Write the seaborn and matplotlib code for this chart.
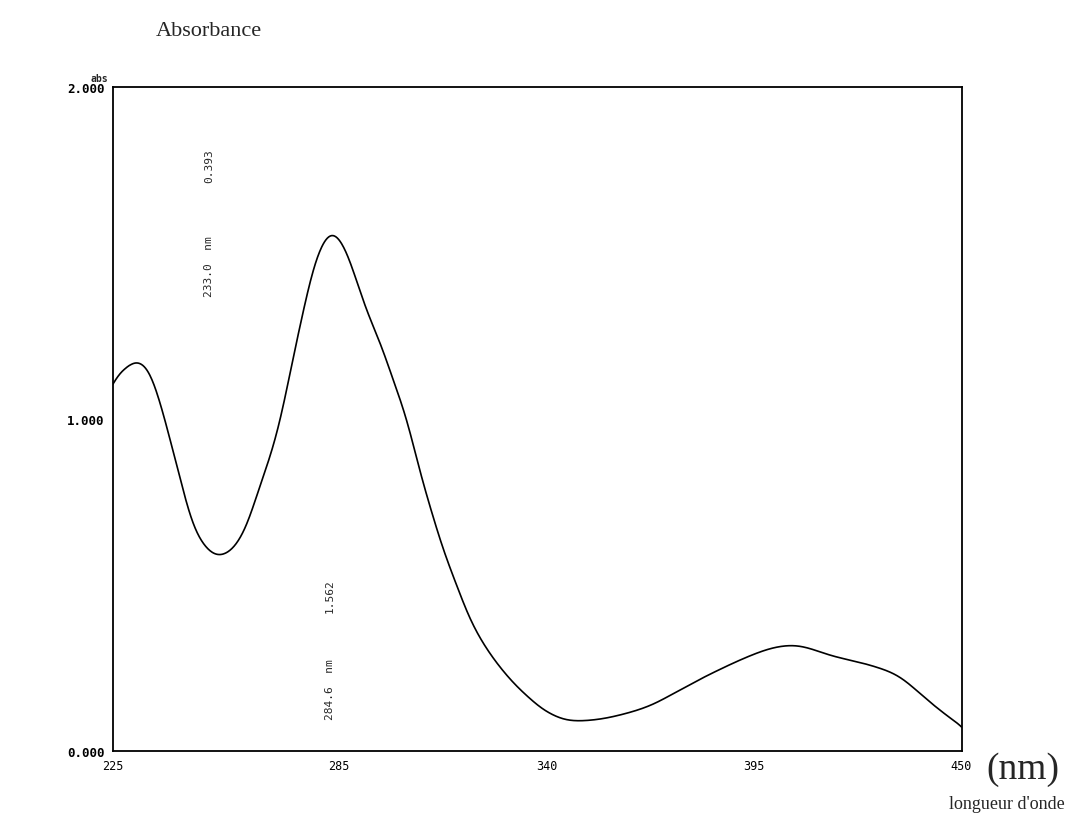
import numpy as np
import pandas as pd
import matplotlib
matplotlib.use("Agg")
import matplotlib.pyplot as plt
import seaborn as sns

# Data
wavelength_nm = [225.0, 228.0, 231.4, 234.8, 238.0, 240.1, 242.8, 246.2, 249.9, 252.8,
                 256.8, 260.5, 263.4, 266.5, 269.3, 272.7, 275.4, 278.0, 280.5, 283.3,
                 287.0, 290.5, 293.1, 295.8, 299.2, 302.9, 306.4, 309.8, 312.5, 316.2,
                 319.6, 324.1, 330.2, 336.3, 340.0, 345.3, 352.2, 359.4, 367.3, 374.5,
                 382.4, 393.8, 401.0, 407.1, 415.8, 426.4, 433.6, 441.5, 450.0]
absorbance = [1.105, 1.150, 1.175, 1.142, 1.030, 0.940, 0.820, 0.678, 0.608, 0.587,
              0.608, 0.678, 0.780, 0.880, 0.991, 1.181, 1.322, 1.452, 1.530, 1.565,
              1.503, 1.383, 1.301, 1.232, 1.120, 1.000, 0.840, 0.708, 0.608, 0.497,
              0.398, 0.307, 0.217, 0.150, 0.118, 0.093, 0.093, 0.108, 0.136, 0.178,
              0.226, 0.286, 0.313, 0.316, 0.286, 0.256, 0.223, 0.148, 0.072]

x_ticks = [225, 285, 340, 395, 450]
x_tick_labels = ["225", "285", "340", "395", "450"]
y_ticks = [0.0, 1.0, 2.0]
y_tick_labels = ["0.000", "1.000", "2.000"]

peak_wl = ["233.0  nm", "284.6  nm"]
peak_abs = ["0.393", "1.562"]

df = pd.DataFrame({"nm": wavelength_nm, "abs": absorbance})


def hermite(xp, yp, xq):
    """Cubic Hermite (Catmull-Rom style) through the read points."""
    xp = np.asarray(xp, float)
    yp = np.asarray(yp, float)
    n = len(xp)
    m = np.zeros(n)
    m[1:-1] = (yp[2:] - yp[:-2]) / (xp[2:] - xp[:-2])
    m[0] = (yp[1] - yp[0]) / (xp[1] - xp[0])
    m[-1] = (yp[-1] - yp[-2]) / (xp[-1] - xp[-2])
    out = np.empty_like(xq)
    for k, x in enumerate(xq):
        i = min(max(np.searchsorted(xp, x) - 1, 0), n - 2)
        h = xp[i + 1] - xp[i]
        t = (x - xp[i]) / h
        out[k] = ((2 * t**3 - 3 * t**2 + 1) * yp[i] + (t**3 - 2 * t**2 + t) * h * m[i]
                  + (-2 * t**3 + 3 * t**2) * yp[i + 1] + (t**3 - t**2) * h * m[i + 1])
    return out


def gauss_smooth(xq, yq, sigma):
    dx = xq[1] - xq[0]
    half = int(4 * sigma / dx)
    k = np.exp(-0.5 * ((np.arange(-half, half + 1) * dx) / sigma) ** 2)
    num = np.convolve(yq, k, mode="same")
    den = np.convolve(np.ones_like(yq), k, mode="same")
    ys = num / den
    # keep the ends anchored on the read values
    w = np.clip(np.minimum(xq - xq[0], xq[-1] - xq) / (3 * sigma), 0, 1)
    return w * ys + (1 - w) * yq


xs = np.linspace(df["nm"].min(), df["nm"].max(), 1200)
ys = gauss_smooth(xs, hermite(df["nm"], df["abs"], xs), 1.6)
smooth = pd.DataFrame({"nm": xs, "abs": ys})

sns.set_style("white")
fig = plt.figure(figsize=(10.66, 8.29), dpi=100)
ax = fig.add_axes([0.106, 0.093, 0.796, 0.801])

sns.lineplot(data=smooth, x="nm", y="abs", ax=ax, color="black", linewidth=1.2)

ax.set_xlim(225, 450)
ax.set_ylim(0, 2.0)
ax.set_xticks(x_ticks)
ax.set_xticklabels(x_tick_labels, family="DejaVu Sans Mono", fontsize=8.5)
ax.set_yticks(y_ticks)
ax.set_yticklabels(y_tick_labels, family="DejaVu Sans Mono", fontsize=9,
                   fontweight="bold")
ax.set_xlabel("")
ax.set_ylabel("")
ax.tick_params(axis="both", direction="out", length=4, width=1, colors="black", pad=2)
ax.set_yticks(np.linspace(0, 2, 41), minor=True)
ax.tick_params(axis="y", which="minor", direction="in", length=2, width=0.6)
for s in ax.spines.values():
    s.set_color("black")
    s.set_linewidth(1.3)

# "abs" unit over the top y tick
ax.text(-0.006, 1.006, "abs", transform=ax.transAxes, ha="right", va="bottom",
        family="DejaVu Sans Mono", fontsize=7, fontweight="bold")

# peak annotations (rotated, as printed by the spectrophotometer)
txt = dict(rotation=90, ha="center", va="bottom", family="DejaVu Sans Mono",
           fontsize=8)
ax.text(250.5, 1.37, peak_wl[0], **txt)
ax.text(250.5, 1.714, peak_abs[0], **txt)
ax.text(282.5, 0.096, peak_wl[1], **txt)
ax.text(282.5, 0.419, peak_abs[1], **txt)

# outer labels
fig.text(0.146, 0.962, "Absorbance", family="Liberation Serif", fontsize=16,
         ha="left", va="center")
fig.text(0.960, 0.071, "(nm)", family="Liberation Serif", fontsize=27,
         ha="center", va="center")
fig.text(0.945, 0.029, "longueur d'onde", family="Liberation Serif", fontsize=13,
         ha="center", va="center")

fig.savefig("out.png", dpi=100, facecolor="white")
